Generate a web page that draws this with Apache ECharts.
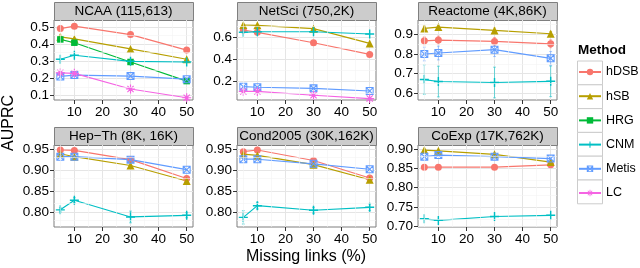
<!DOCTYPE html>
<html><head><meta charset="utf-8">
<script src="https://cdn.jsdelivr.net/npm/echarts@6/dist/echarts.min.js"></script>
<style>html,body{margin:0;padding:0;background:#fff}#c{width:640px;height:268px}</style>
</head><body><div id="c"></div>
<script>
// ---------- data ----------
const missingLinks = [5, 10, 30, 50];
const xTicks = [10, 20, 30, 40, 50];
const xMinor = [5, 15, 25, 35, 45];
const methods = ['hDSB', 'hSB', 'HRG', 'CNM', 'Metis', 'LC'];
const panelTitles = ['NCAA (115,613)', 'NetSci (750,2K)', 'Reactome (4K,86K)', 'Hep\u2212Th (8K, 16K)', 'Cond2005 (30K,162K)', 'CoExp (17K,762K)'];

// NCAA
const ncaaHDSB  = [0.490, 0.504, 0.455, 0.365];
const ncaaHSB   = [0.442, 0.430, 0.372, 0.312];
const ncaaHRG   = [0.427, 0.408, 0.296, 0.185];
const ncaaCNM   = [0.312, 0.335, 0.300, 0.296];
const ncaaMetis = [0.212, 0.220, 0.214, 0.196];
const ncaaLC    = [0.233, 0.230, 0.139, 0.088];
// NetSci
const netsciHDSB  = [0.666, 0.645, 0.551, 0.446];
const netsciHSB   = [0.711, 0.708, 0.678, 0.545];
const netsciCNM   = [0.645, 0.650, 0.650, 0.630];
const netsciMetis = [0.155, 0.150, 0.140, 0.116];
const netsciLC    = [0.112, 0.112, 0.078, 0.048];
// Reactome
const reactomeHDSB  = [0.867, 0.871, 0.864, 0.852];
const reactomeHSB   = [0.930, 0.937, 0.920, 0.903];
const reactomeCNM   = [0.670, 0.660, 0.655, 0.661];
const reactomeMetis = [0.800, 0.805, 0.822, 0.778];
const reactomeHDSBErr  = [0.020, 0.020, 0.020, 0.020];
const reactomeHSBErr   = [0.012, 0.012, 0.012, 0.012];
const reactomeCNMErr   = [0.075, 0.078, 0.078, 0.078];
const reactomeMetisErr = [0.035, 0.035, 0.035, 0.035];
// Hep-Th
const hepthHDSB  = [0.948, 0.947, 0.925, 0.880];
const hepthHSB   = [0.939, 0.932, 0.911, 0.874];
const hepthCNM   = [0.805, 0.828, 0.788, 0.792];
const hepthMetis = [0.932, 0.932, 0.925, 0.901];
const hepthCNMErr = [0.005, 0.006, 0.014, 0.006];
// Cond2005
const condHDSB  = [0.944, 0.948, 0.923, 0.881];
const condHSB   = [0.938, 0.935, 0.913, 0.877];
const condCNM   = [0.787, 0.815, 0.804, 0.811];
const condMetis = [0.926, 0.926, 0.915, 0.902];
const condCNMErr = [0.016, 0.008, 0.007, 0.008];
// CoExp
const coexpHDSB  = [0.853, 0.853, 0.853, 0.859];
const coexpHSB   = [0.897, 0.895, 0.886, 0.866];
const coexpCNM   = [0.720, 0.716, 0.726, 0.729];
const coexpMetis = [0.880, 0.884, 0.880, 0.875];

// y tick labels per panel
const yTicks = [
  [0.1, 0.2, 0.3, 0.4, 0.5],
  [0.2, 0.4, 0.6],
  [0.6, 0.7, 0.8, 0.9],
  [0.80, 0.85, 0.90, 0.95],
  [0.80, 0.85, 0.90, 0.95],
  [0.70, 0.75, 0.80, 0.85, 0.90]
];
const yMinor = [
  [0.15, 0.25, 0.35, 0.45],
  [0.1, 0.3, 0.5, 0.7],
  [0.65, 0.75, 0.85, 0.95],
  [0.775, 0.825, 0.875, 0.925],
  [0.775, 0.825, 0.875, 0.925],
  [0.725, 0.775, 0.825, 0.875]
];
const yDecimals = [1, 1, 1, 2, 2, 2];

// ---------- assembly ----------
const panelSeries = [
  {hDSB: ncaaHDSB, hSB: ncaaHSB, HRG: ncaaHRG, CNM: ncaaCNM, Metis: ncaaMetis, LC: ncaaLC},
  {hDSB: netsciHDSB, hSB: netsciHSB, CNM: netsciCNM, Metis: netsciMetis, LC: netsciLC},
  {hDSB: reactomeHDSB, hSB: reactomeHSB, CNM: reactomeCNM, Metis: reactomeMetis},
  {hDSB: hepthHDSB, hSB: hepthHSB, CNM: hepthCNM, Metis: hepthMetis},
  {hDSB: condHDSB, hSB: condHSB, CNM: condCNM, Metis: condMetis},
  {hDSB: coexpHDSB, hSB: coexpHSB, CNM: coexpCNM, Metis: coexpMetis}
];
const panelErrors = [
  {}, {},
  {hDSB: reactomeHDSBErr, hSB: reactomeHSBErr, CNM: reactomeCNMErr, Metis: reactomeMetisErr},
  {CNM: hepthCNMErr},
  {CNM: condCNMErr},
  {}
];

// layout (pixels)
const colLeft = [54, 237, 418];
const plotW = 139;
const rowTop = [20, 145];
const rowH = [80, 82];
const stripH = 18;
const yRange = [
  [0.075, 0.54], [0.035, 0.756], [0.566, 0.973],
  [0.764, 0.960], [0.764, 0.960], [0.699, 0.91]
];

const FONT = 'Liberation Sans, Arial, Helvetica, sans-serif';
const colors = {hDSB: '#F8766D', hSB: '#B79F00', HRG: '#00BA38', CNM: '#00BFC4', Metis: '#619CFF', LC: '#F564E3'};
const plusPath = 'path://M4.2,0H5.8V4.2H10V5.8H5.8V10H4.2V5.8H0V4.2H4.2Z';
const sqxPath = 'path://M0,0H10V10H0Z M1.3,1.3V8.7H8.7V1.3Z M1,0L5,4L9,0L10,1L6,5L10,9L9,10L5,6L1,10L0,9L4,5L0,1Z';
const astPath = 'path://M4.35,0H5.65V4.35H10V5.65H5.65V10H4.35V5.65H0V4.35H4.35Z M2.0,1.1L5,4.1L8.0,1.1L8.9,2.0L5.9,5L8.9,8.0L8.0,8.9L5,5.9L2.0,8.9L1.1,8.0L4.1,5L1.1,2.0Z';
const symbols = {hDSB: ['circle', 7], hSB: ['triangle', 8], HRG: ['rect', 6.5], CNM: [plusPath, 9], Metis: [sqxPath, 8], LC: [astPath, 9]};

const grids = [], xAxes = [], yAxes = [], series = [], graphics = [];
for (let p = 0; p < 6; p++) {
  const r = Math.floor(p / 3), c = p % 3;
  grids.push({left: colLeft[c], top: rowTop[r], width: plotW, height: rowH[r],
    show: true, backgroundColor: '#fff', borderColor: '#7F7F7F', borderWidth: 1});
  xAxes.push({type: 'value', gridIndex: p, min: 2.75, max: 52.25,
    axisLine: {show: false},
    axisTick: {show: true, length: 4, lineStyle: {color: '#333', width: 1}, customValues: xTicks},
    axisLabel: {customValues: xTicks, fontSize: 13.5, color: '#000', fontFamily: FONT, margin: 5},
    splitLine: {show: true, lineStyle: {color: '#E5E5E5', width: 1}}});
  const dec = yDecimals[p];
  yAxes.push({type: 'value', gridIndex: p, min: yRange[p][0], max: yRange[p][1],
    axisLine: {show: false},
    axisTick: {show: true, length: 4, lineStyle: {color: '#333', width: 1}, customValues: yTicks[p]},
    axisLabel: {customValues: yTicks[p], fontSize: 13.5, color: '#000', fontFamily: FONT, margin: 5,
      formatter: v => Number(v).toFixed(dec)},
    splitLine: {show: true, lineStyle: {color: '#E5E5E5', width: 1}}});
  // minor grid lines
  series.push({type: 'line', xAxisIndex: p, yAxisIndex: p, data: [], silent: true, z: 1,
    markLine: {silent: true, symbol: 'none', label: {show: false}, animation: false,
      lineStyle: {color: '#F3F3F3', width: 0.6, type: 'solid'},
      data: xMinor.map(v => ({xAxis: v})).concat(yMinor[p].map(v => ({yAxis: v})))}});
  // error bars
  const errs = panelErrors[p];
  Object.keys(errs).forEach(m => {
    const vals = panelSeries[p][m];
    series.push({type: 'custom', xAxisIndex: p, yAxisIndex: p, silent: true, z: 2,
      data: missingLinks.map((x, i) => [x, vals[i] - errs[m][i], vals[i] + errs[m][i]]),
      renderItem: (params, api) => {
        const lo = api.coord([api.value(0), api.value(1)]);
        const hi = api.coord([api.value(0), api.value(2)]);
        const capL = api.coord([api.value(0) - 0.5, api.value(1)])[0];
        const capR = api.coord([api.value(0) + 0.5, api.value(1)])[0];
        const st = {stroke: colors[m], lineWidth: 1, opacity: 0.55};
        return {type: 'group', children: [
          {type: 'line', shape: {x1: lo[0], y1: lo[1], x2: hi[0], y2: hi[1]}, style: st},
          {type: 'line', shape: {x1: capL, y1: lo[1], x2: capR, y2: lo[1]}, style: st},
          {type: 'line', shape: {x1: capL, y1: hi[1], x2: capR, y2: hi[1]}, style: st}
        ]};
      }});
  });
  // lines
  methods.forEach(m => {
    const vals = panelSeries[p][m];
    if (!vals) return;
    series.push({type: 'line', name: m, xAxisIndex: p, yAxisIndex: p, z: 3,
      data: missingLinks.map((x, i) => [x, vals[i]]),
      symbol: symbols[m][0], symbolSize: symbols[m][1], showAllSymbol: true,
      itemStyle: {color: colors[m], opacity: 1},
      lineStyle: {color: colors[m], width: 1.2},
      emphasis: {disabled: true}, animation: false});
  });
  // strip
  graphics.push({type: 'rect', left: colLeft[c], top: rowTop[r] - stripH,
    shape: {width: plotW, height: stripH},
    style: {fill: '#CCCCCC', stroke: '#7F7F7F', lineWidth: 1}});
  graphics.push({type: 'text', x: colLeft[c] + plotW / 2, y: rowTop[r] - stripH / 2,
    style: {text: panelTitles[p], fill: '#000', font: '13.5px ' + FONT, align: 'center', verticalAlign: 'middle'}});
}

// legend key boxes
for (let k = 0; k < methods.length; k++) {
  graphics.push({type: 'rect', left: 577, top: 60.5 + k * 23.8, z: -1,
    shape: {width: 25, height: 23.8},
    style: {fill: '#fff', stroke: '#CCCCCC', lineWidth: 1}});
}
graphics.push({type: 'text', x: 578, y: 50,
  style: {text: 'Method', fill: '#000', font: 'bold 13.5px ' + FONT, verticalAlign: 'middle'}});
graphics.push({type: 'text', x: 306, y: 257,
  style: {text: 'Missing links (%)', fill: '#000', font: '16px ' + FONT, align: 'center', verticalAlign: 'middle'}});
graphics.push({type: 'text', x: 9, y: 123, rotation: Math.PI / 2,
  style: {text: 'AUPRC', fill: '#000', font: '16px ' + FONT, align: 'center', verticalAlign: 'middle'}});

const chart = echarts.init(document.getElementById('c'), null, {renderer: 'canvas'});
chart.setOption({
  animation: false,
  backgroundColor: '#fff',
  grid: grids, xAxis: xAxes, yAxis: yAxes, series: series,
  legend: {orient: 'vertical', left: 578, top: 65.5, padding: 0, itemWidth: 22, itemHeight: 8, itemGap: 11.2,
    data: methods, selectedMode: false,
    textStyle: {fontSize: 12.5, lineHeight: 12, color: '#000', fontFamily: FONT, padding: 0}},
  graphic: graphics
});
</script>
</body></html>
